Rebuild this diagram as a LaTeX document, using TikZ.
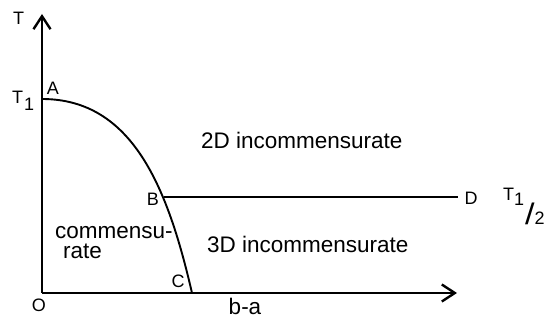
\documentclass[tikz,border=0pt]{standalone}
\usepackage{fontspec}
\setmainfont{Liberation Sans}
\usetikzlibrary{arrows.meta, positioning}

\begin{document}
\begin{tikzpicture}[
  x=1pt, y=-1pt,
  axis/.style={line width=2.4pt, -{Straight Barb[length=13pt, width=17pt, line width=2.4pt]}},
  phase/.style={line width=1.9pt},
  pt/.style={inner sep=0pt, font=\fontsize{18}{18}\selectfont},
  region/.style={inner sep=0pt, font=\fontsize{22.5}{20}\selectfont},
]
  \useasboundingbox (0,0) rectangle (547,320);

  % axes and phase boundaries
  \coordinate (O) at (42,293);
  \coordinate (Ttop) at (42,14);
  \coordinate (Xend) at (457,293);
  \coordinate (Apt) at (42,99);
  \coordinate (Bpt) at (164,197);
  \coordinate (Cpt) at (192,293);
  \coordinate (Dpt) at (458,197);

  \draw[axis] (O) -- (Ttop);
  \draw[axis] (O) -- (Xend);
  \draw[phase] (Apt) .. controls (133,99) and (168,189) .. (Cpt);
  \draw[phase] (Bpt) -- (Dpt);

  % axis labels
  \node[pt, anchor=base west] (T) at (13,25) {T};
  \node[pt, anchor=base west] (T1) at (12,104) {T\kern1pt\raisebox{-7pt}{1}};
  \node[pt, anchor=base west] (half) at (503,201)
    {T\raisebox{-5pt}{1}\kern1pt\raisebox{-24pt}{\scalebox{1.9}[1.65]{/}}\kern0pt\raisebox{-24pt}{2}};
  \node[pt] (zero) at (39,305) {O};
  \node[region, anchor=base] (ba) at (245,315) {b-a};

  % points
  \node[pt] (A) at (53,88) {A};
  \node[pt] (B) at (153,199) {B};
  \node[pt] (C) at (178,281) {C};
  \node[pt] (D) at (471,198) {D};

  % phases
  \node[region, anchor=base west] (inc2) at (201,149) {2D incommensurate};
  \node[region, anchor=base west] (inc3) at (207,253) {3D incommensurate};
  \node[region, align=left, anchor=north west] (com) at (55,226) {commensu-\\\hspace{8pt}rate};
\end{tikzpicture}
\end{document}
